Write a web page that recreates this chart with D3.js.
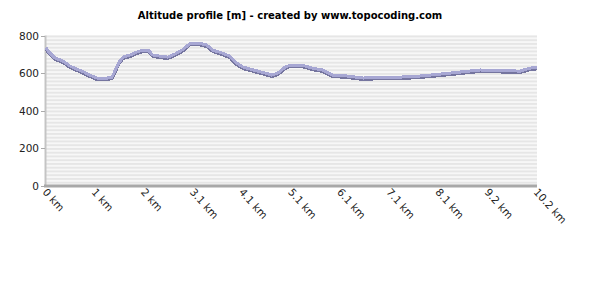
<!DOCTYPE html>
<html>
<head>
<meta charset="utf-8">
<script src="https://cdn.jsdelivr.net/npm/d3@7"></script>
<style>
  body { margin: 0; background: #fff; }
  text { font-family: "DejaVu Sans", sans-serif; }
</style>
</head>
<body>
<script>
// distances along the route (km) and altitude (m)
var distances = [0, 0.06, 0.19, 0.35, 0.50, 0.64, 0.79, 0.91, 1.06, 1.27, 1.37, 1.43, 1.52, 1.60,
	1.75, 1.89, 2.02, 2.12, 2.22, 2.37, 2.53, 2.68, 2.85, 2.99, 3.20, 3.34, 3.47, 3.66, 3.82,
	3.93, 4.09, 4.24, 4.40, 4.55, 4.69, 4.82, 4.97, 5.07, 5.32, 5.53, 5.75, 5.96, 6.25, 6.59,
	6.94, 7.35, 7.77, 8.19, 8.60, 9.02, 9.37, 9.85, 10.05, 10.20];
var altitudes = [735, 712, 680, 664, 637, 621, 605, 589, 573, 573, 578, 610, 658, 685,
	696, 712, 722, 722, 696, 690, 685, 701, 726, 758, 758, 749, 722, 706, 690,
	658, 632, 621, 610, 600, 589, 600, 632, 642, 642, 626, 616, 589, 584, 573,
	578, 578, 584, 594, 605, 616, 614, 610, 626, 630];
var yTicks = [0, 200, 400, 600, 800];
var xTickLabels = ['0 km', '1 km', '2 km', '3.1 km', '4.1 km', '5.1 km', '6.1 km', '7.1 km', '8.1 km', '9.2 km', '10.2 km'];

var width = 597,
	height = 284;

var svg = d3.select('body')
	.append('svg')
	.attr('width', width)
	.attr('height', height);

// plot area edges
var plotLeft = 46, plotRight = 537, plotTop = 35.5, plotBottom = 185.5;

var x = d3.scaleLinear().domain([0, 10.2]).range([plotLeft, plotRight]);
var y = d3.scaleLinear().domain([0, 800]).range([plotBottom, plotTop]);

// title
svg.append('text')
	.attr('x', 290)
	.attr('y', 19)
	.attr('text-anchor', 'middle')
	.attr('font-size', 10)
	.attr('font-weight', 'bold')
	.attr('fill', '#000')
	.text('Altitude profile [m] - created by www.topocoding.com');

// striped plot background
svg.append('rect')
	.attr('x', plotLeft)
	.attr('y', plotTop)
	.attr('width', plotRight - plotLeft)
	.attr('height', plotBottom - plotTop)
	.attr('fill', '#f7f7f7');

svg.append('g')
	.selectAll('rect')
	.data(d3.range(0, 800, 20))
	.enter().append('rect')
	.attr('x', plotLeft)
	.attr('width', plotRight - plotLeft)
	.attr('y', function(d) { return y(d + 20); })
	.attr('height', y(0) - y(10))
	.attr('fill', '#e6e6e6');

// y axis
var yAxis = svg.append('g');
yAxis.append('line')
	.attr('x1', plotLeft - 0.5).attr('x2', plotLeft - 0.5)
	.attr('y1', plotTop).attr('y2', plotBottom)
	.attr('stroke', '#c4c4c4')
	.attr('stroke-width', 2);
yAxis.selectAll('.tick')
	.data(yTicks)
	.enter().append('line')
	.attr('x1', plotLeft - 5).attr('x2', plotLeft - 1)
	.attr('y1', function(d) { return Math.round(y(d)) + 0.5; })
	.attr('y2', function(d) { return Math.round(y(d)) + 0.5; })
	.attr('stroke', '#aaa');
yAxis.selectAll('text')
	.data(yTicks)
	.enter().append('text')
	.attr('x', plotLeft - 7)
	.attr('y', function(d) { return y(d) + 4; })
	.attr('text-anchor', 'end')
	.attr('font-size', 10.5)
	.attr('fill', '#222')
	.text(function(d) { return d; });

// x axis
svg.append('line')
	.attr('x1', plotLeft - 2).attr('x2', plotRight)
	.attr('y1', plotBottom + 0.5).attr('y2', plotBottom + 0.5)
	.attr('stroke', '#a8a8a8')
	.attr('stroke-width', 3);

svg.append('g')
	.selectAll('text')
	.data(xTickLabels)
	.enter().append('text')
	.attr('transform', function(d, i) {
		return 'translate(' + (x(i * 1.02) - 4) + ',' + (plotBottom + 7) + ') rotate(48)';
	})
	.attr('font-size', 10.5)
	.attr('fill', '#222')
	.text(function(d) { return d; });

// altitude line with a darker shadow underneath (blocky, like the original renderer)
var points = distances.map(function(d, i) { return [d, altitudes[i]]; });
var line = d3.line()
	.x(function(d) { return x(d[0]); })
	.y(function(d) { return y(d[1]); });

svg.append('path')
	.datum(points)
	.attr('d', line)
	.attr('transform', 'translate(0,1.5)')
	.attr('fill', 'none')
	.attr('stroke', '#75759f')
	.attr('stroke-width', 3)
	.attr('shape-rendering', 'crispEdges');

svg.append('path')
	.datum(points)
	.attr('d', line)
	.attr('fill', 'none')
	.attr('stroke', '#a7a7d3')
	.attr('stroke-width', 3)
	.attr('shape-rendering', 'crispEdges');
</script>
</body>
</html>
